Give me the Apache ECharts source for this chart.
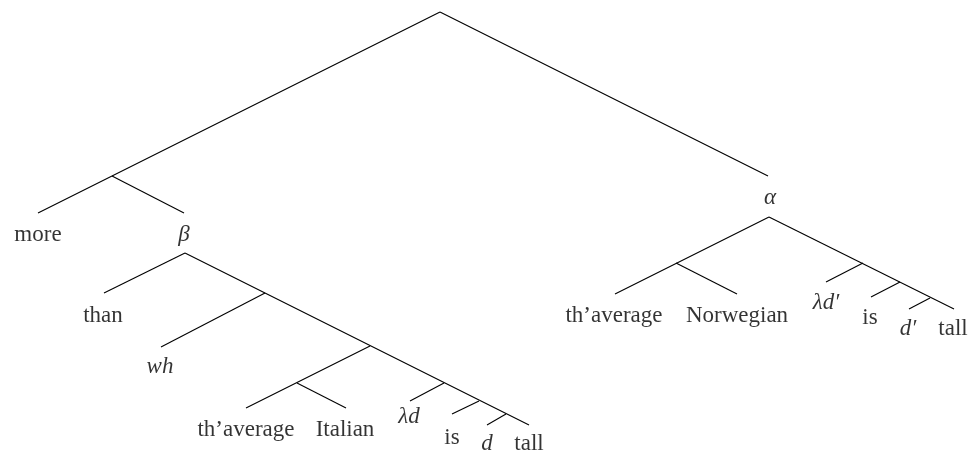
<!DOCTYPE html>
<html>
<head>
<meta charset="utf-8">
<script src="https://cdn.jsdelivr.net/npm/echarts@6/dist/echarts.min.js"></script>
<style>
  html, body { margin: 0; padding: 0; background: #fff; }
  #chart { width: 972px; height: 456px; }
</style>
</head>
<body>
<div id="chart"></div>
<script>
// tree nodes: name -> [x, y] in drawing units
const nodeNames = ['root', 'n1', 'moreEnd', 'betaEnd', 'alphaEnd', 'alpha', 'beta',
  'thanEnd', 'n2', 'whEnd', 'n3', 'avgLEnd', 'n4', 'italianEnd',
  'lamL', 'lamLEnd', 'isL', 'isLEnd', 'dL', 'dLEnd', 'tallLEnd',
  'n5', 'avgREnd', 'norwEnd', 'lamR', 'lamREnd', 'isR', 'isREnd', 'dR', 'dREnd', 'tallREnd']
const nodeX = [440, 112, 38, 184, 768, 769, 185,
  104, 265, 161, 370, 246, 297, 346,
  444, 410, 479, 452, 506, 487, 529,
  676, 615, 737, 863, 826, 900, 871, 930, 909, 954]
const nodeY = [12, 176, 213, 213, 176, 217, 253,
  293, 293, 347, 346, 408, 383, 408,
  383, 401, 401, 414, 414, 425, 425,
  263, 294, 294, 263, 282, 282, 297, 298, 309, 309]

// edges: [from, to]
const edges = [
  ['root', 'moreEnd'], ['n1', 'betaEnd'], ['root', 'alphaEnd'],
  ['beta', 'thanEnd'], ['beta', 'tallLEnd'], ['n2', 'whEnd'],
  ['n3', 'avgLEnd'], ['n4', 'italianEnd'],
  ['lamL', 'lamLEnd'], ['isL', 'isLEnd'], ['dL', 'dLEnd'],
  ['alpha', 'avgREnd'], ['n5', 'norwEnd'], ['alpha', 'tallREnd'],
  ['lamR', 'lamREnd'], ['isR', 'isREnd'], ['dR', 'dREnd']
]

// labels
const labelText = ['more', 'β', 'than', 'wh', 'th’average', 'Italian', 'λd', 'is', 'd', 'tall',
  'α', 'th’average', 'Norwegian', 'λd′', 'is', 'd′', 'tall']
const labelX = [38, 184, 103, 160, 246, 345, 409, 452, 487, 529,
  770, 614, 737, 826, 870, 908, 953]
const labelY = [235, 235, 316, 367, 430, 430, 417, 438, 444, 444,
  198, 316, 316, 303, 318, 329, 329]
const labelItalic = [false, true, false, true, false, false, true, false, true, false,
  true, false, false, true, false, true, false]

const pos = {}
nodeNames.forEach((n, i) => { pos[n] = [nodeX[i], nodeY[i]] })

const chart = echarts.init(document.getElementById('chart'))

chart.setOption({
  animation: false,
  backgroundColor: '#fff',
  grid: { left: 0, right: 0, top: 0, bottom: 0 },
  xAxis: { type: 'value', min: 0, max: 972, show: false },
  yAxis: { type: 'value', min: 0, max: 456, inverse: true, show: false },
  series: [
    {
      type: 'lines',
      coordinateSystem: 'cartesian2d',
      lineStyle: { color: '#000', width: 1.1, opacity: 1 },
      data: edges.map(e => ({ coords: [pos[e[0]], pos[e[1]]] }))
    },
    {
      type: 'scatter',
      symbolSize: 0,
      label: {
        show: true,
        position: 'inside',
        color: '#000',
        fontFamily: 'Liberation Serif',
        fontSize: 23,
        formatter: p => p.name
      },
      data: labelText.map((t, i) => ({
        name: t,
        value: [labelX[i], labelY[i]],
        label: labelItalic[i] ? { fontStyle: 'italic' } : {}
      }))
    }
  ]
})
</script>
</body>
</html>
